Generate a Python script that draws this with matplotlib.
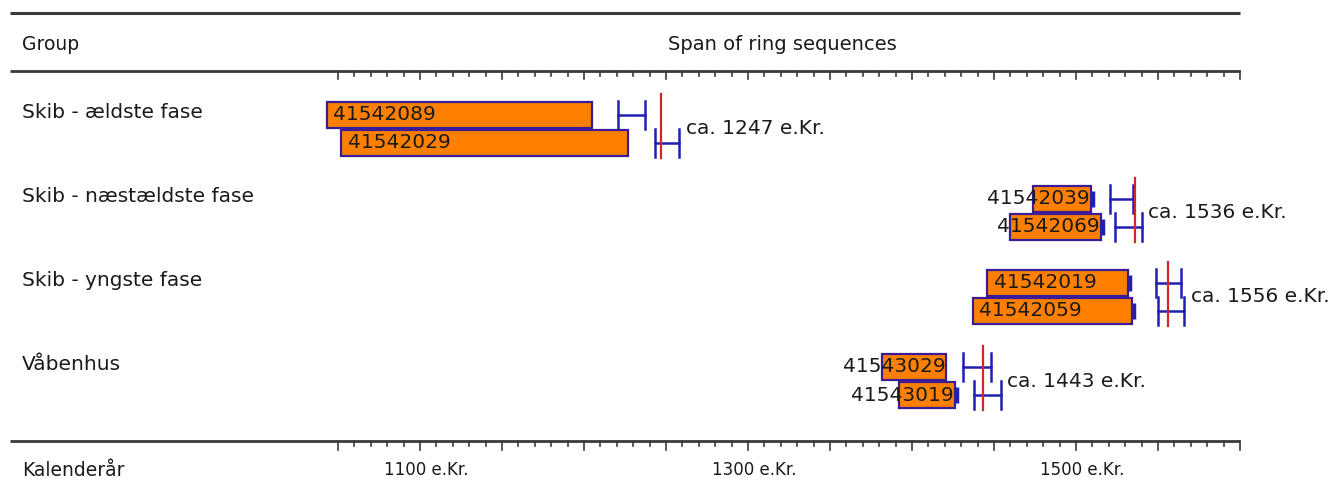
import matplotlib
matplotlib.use("Agg")
import matplotlib.pyplot as plt
import numpy as np

# ---------------- data ----------------
groups = ["Skib - ældste fase", "Skib - næstældste fase", "Skib - yngste fase", "Våbenhus"]
samples = [["41542089", "41542029"],
           ["41542039", "41542069"],
           ["41542019", "41542059"],
           ["41543029", "41543019"]]
seq_start = [[1043, 1052], [1474, 1460], [1446, 1437], [1382, 1392]]
seq_end = [[1205, 1227], [1509, 1515], [1532, 1534], [1421, 1426]]
fell_lo = [[1221, 1243], [1521, 1524], [1549, 1550], [1431, 1438]]
fell_hi = [[1237, 1258], [1535, 1540], [1564, 1566], [1448, 1454]]
sapwood = [[False, False], [True, True], [True, True], [False, True]]
group_dates = [1247, 1536, 1556, 1443]
date_labels = ["ca. 1247 e.Kr.", "ca. 1536 e.Kr.", "ca. 1556 e.Kr.", "ca. 1443 e.Kr."]
tick_years = [1100, 1300, 1500]
tick_labels = ["1100 e.Kr.", "1300 e.Kr.", "1500 e.Kr."]
axis_start, axis_end = 1050, 1600

# ---------------- style ----------------
ORANGE = "#FF8000"
EDGE = "#3B1C96"
BLUE = "#2020B0"
RED = "#D02828"
LINE = "#3A3A3A"
TXT = "#1A1A1A"

plt.rcParams['font.family'] = ['DejaVu Sans']

fig = plt.figure(figsize=(13.33, 4.94), dpi=100)
ax = fig.add_axes([0, 0, 1, 1])
# x in calendar years; y in bar-row units (28 px each)
ax.set_xlim(1100 - 420 / 1.64, 1100 + 913 / 1.64)
ax.set_ylim((494 - 115) / 28, -115 / 28)
ax.axis("off")

def ypx(p):
    return (p - 115) / 28.0

# header / footer rules
x_left = 1100 + (10 - 420) / 1.64
for yy, lw in [(ypx(13), 2.2), (ypx(71), 2.0), (ypx(441), 2.0)]:
    ax.plot([x_left, axis_end], [yy, yy], color=LINE, lw=lw, solid_capstyle="butt")

# ticks hanging under the two axis lines
minor = np.arange(axis_start, axis_end + 1, 10)
for base in [ypx(71), ypx(441)]:
    for yr in minor:
        L = 8.5 if yr % 50 == 0 else 5.5
        ax.plot([yr, yr], [base, base + L / 28], color=LINE, lw=1.2)

# header texts
ax.text(22 / 1333, ypx(45), "Group", transform=ax.get_yaxis_transform(),
        ha="left", va="center", fontsize=13.5, color=TXT)
ax.text(1321, ypx(45), "Span of ring sequences", ha="center", va="center",
        fontsize=14, color=TXT)
ax.text(22 / 1333, ypx(470), "Kalenderår", transform=ax.get_yaxis_transform(),
        ha="left", va="center", fontsize=13.5, color=TXT)
for yr, lab in zip(tick_years, tick_labels):
    ax.text(yr + 4, ypx(470), lab, ha="center", va="center",
            fontsize=12, color=TXT)

# bars
h = 0.96
for g, gname in enumerate(groups):
    y0 = 3 * g
    ax.text(22 / 1333, y0 - 0.1, gname, transform=ax.get_yaxis_transform(),
            ha="left", va="center", fontsize=14.5, color=TXT)
    for j in range(2):
        y = y0 + j
        s, e = seq_start[g][j], seq_end[g][j]
        ax.barh(y, e - s, left=s, height=h, color=ORANGE, edgecolor=EDGE,
                linewidth=1.6, zorder=2)
        if sapwood[g][j]:
            ax.plot([e + 1.2, e + 1.2], [y - 0.3, y + 0.3], color=BLUE, lw=2.5,
                    zorder=3, solid_capstyle="butt")
        if e - s > 70:
            ax.text(s + 4, y, samples[g][j], ha="left", va="center",
                    fontsize=14.5, color=TXT, zorder=4)
        else:
            ax.text(e - 0.5, y, samples[g][j], ha="right", va="center",
                    fontsize=14.5, color=TXT, zorder=4)
        lo, hi = fell_lo[g][j], fell_hi[g][j]
        ax.plot([lo, hi], [y, y], color=BLUE, lw=1.8, zorder=3)
        ax.plot([lo, lo], [y - 0.5, y + 0.5], color=BLUE, lw=1.8, zorder=3)
        ax.plot([hi, hi], [y - 0.5, y + 0.5], color=BLUE, lw=1.8, zorder=3)
    d = group_dates[g]
    ax.plot([d, d], [y0 - 0.75, y0 + 1.55], color=RED, lw=1.6, zorder=3.5)
    xr = max(fell_hi[g]) + 4
    ax.text(xr, y0 + 0.5, date_labels[g], ha="left", va="center",
            fontsize=14.5, color=TXT)

fig.savefig("out.png", dpi=100)
